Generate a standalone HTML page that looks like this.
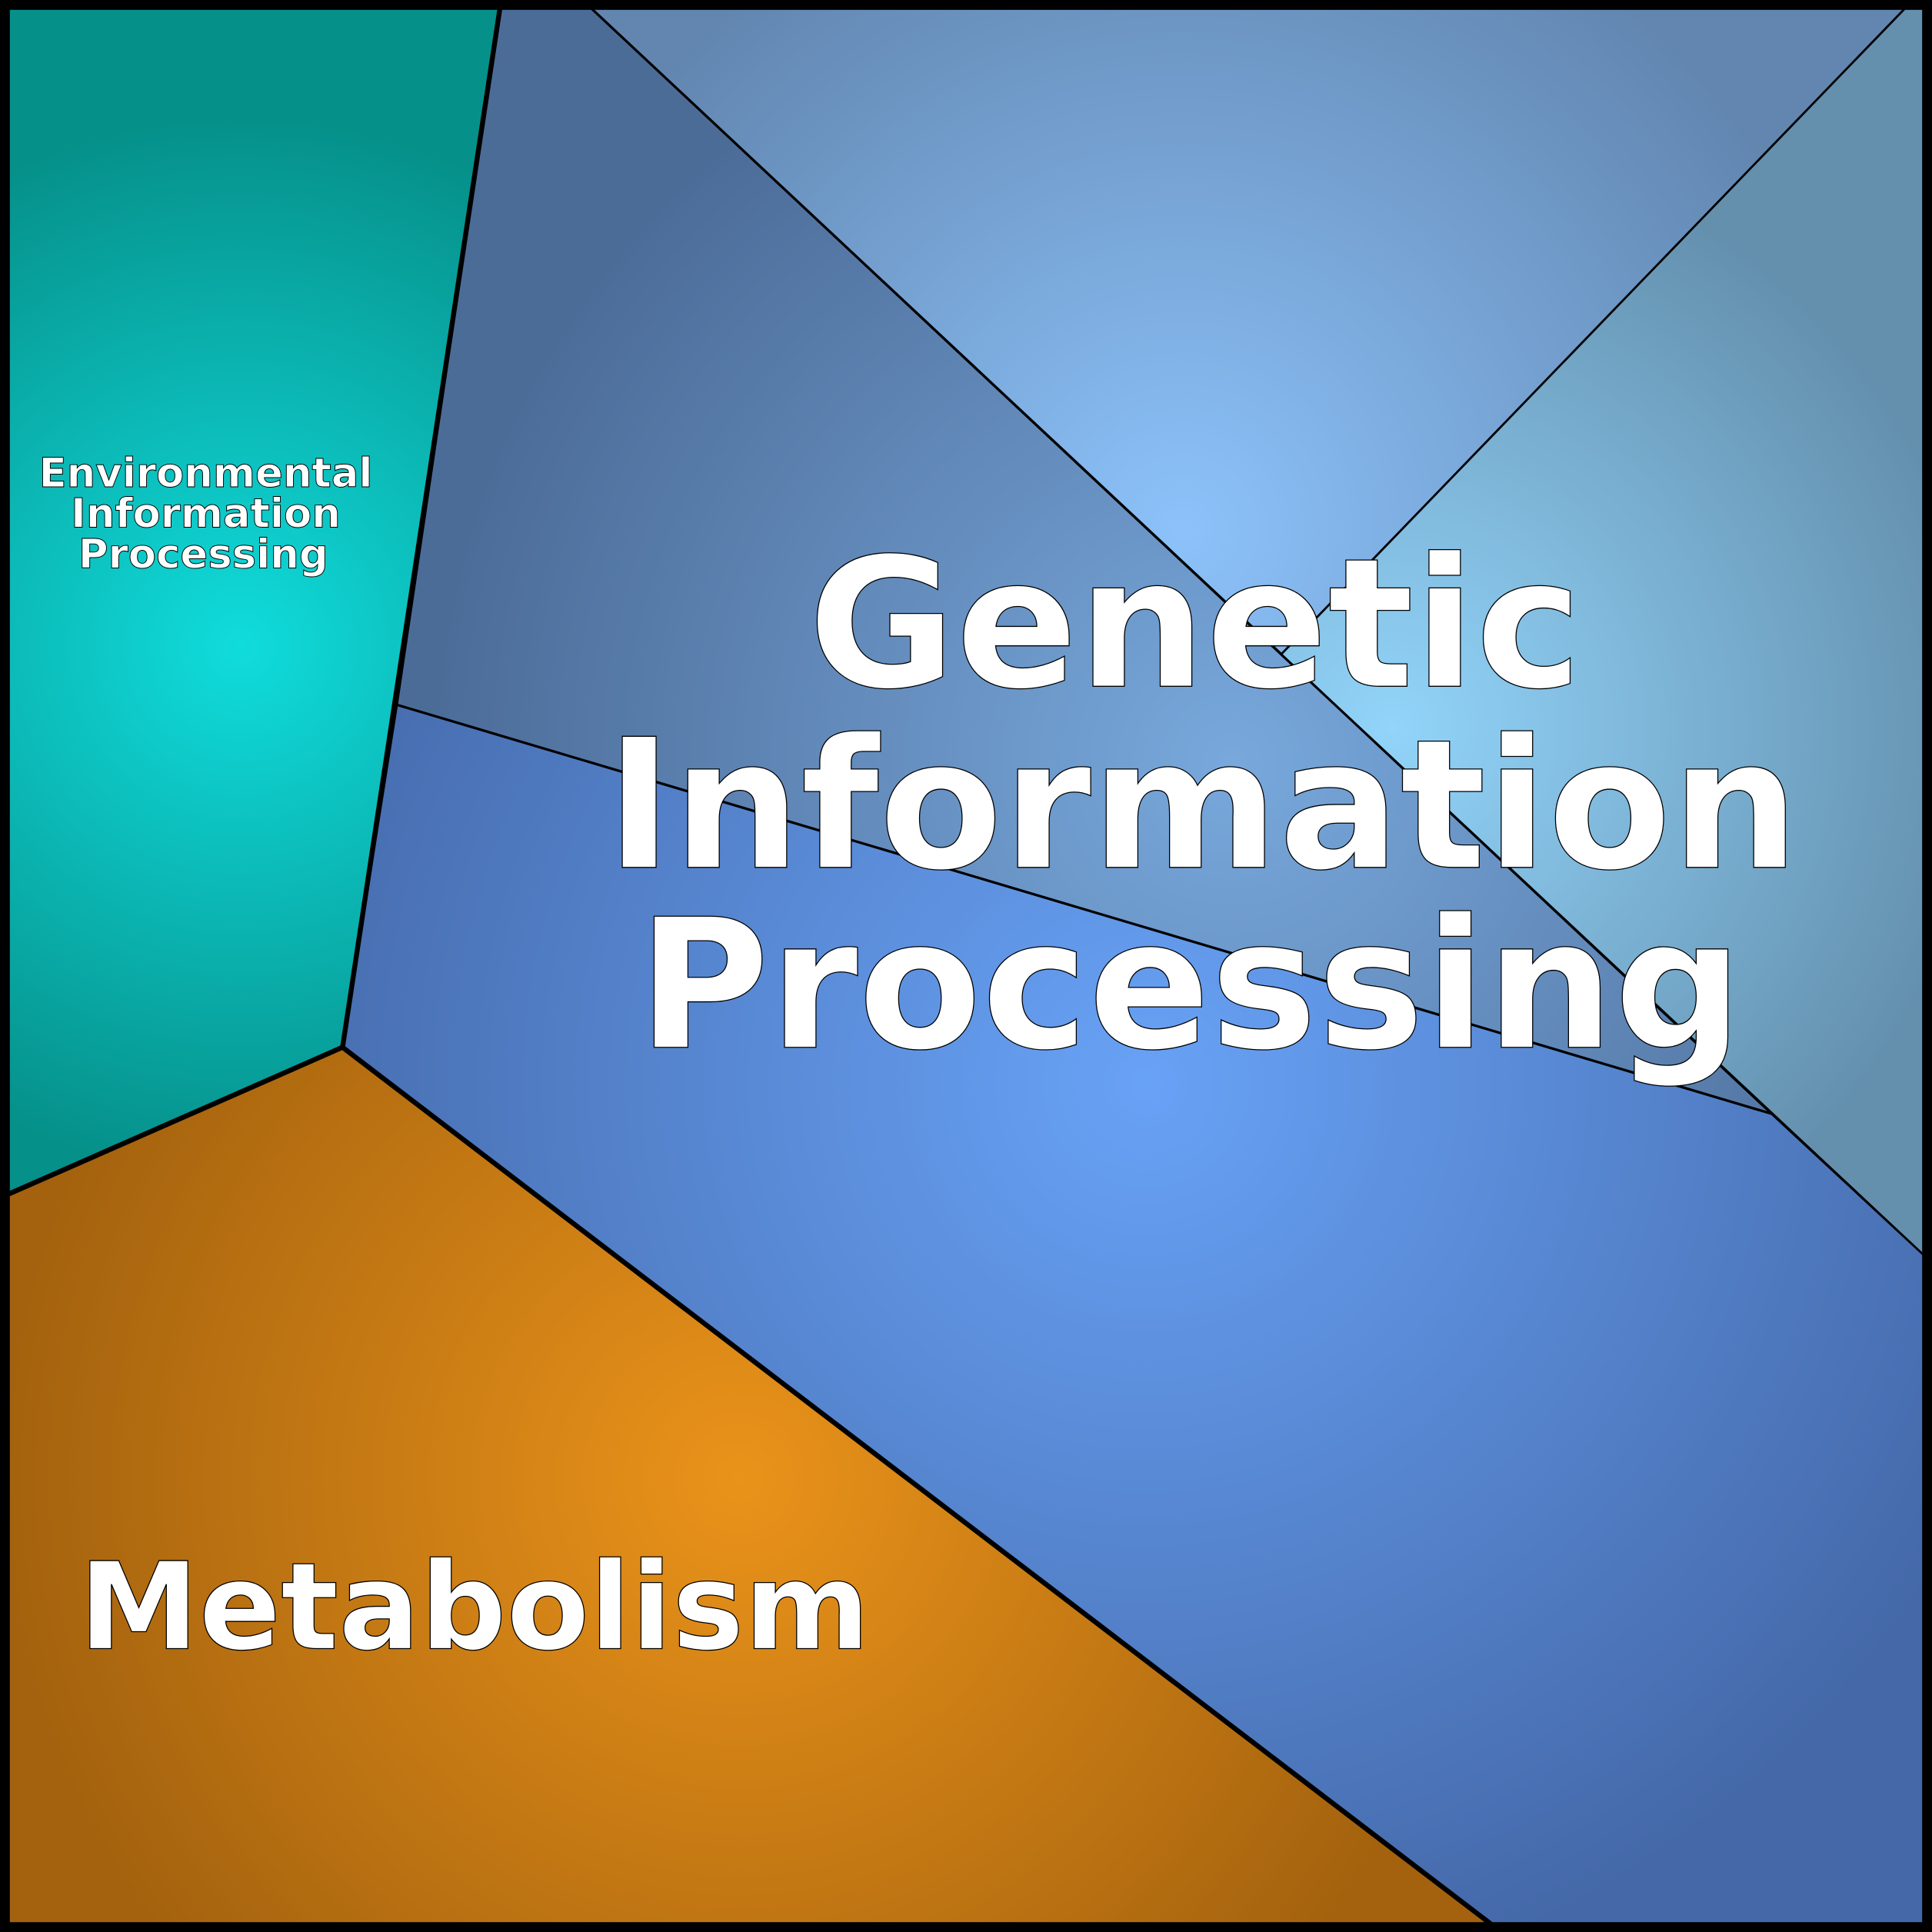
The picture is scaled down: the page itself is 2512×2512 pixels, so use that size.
<!DOCTYPE html>
<html><head><meta charset="utf-8"><style>
html,body{margin:0;padding:0;background:#fff}
svg{display:block}
text{font-family:"DejaVu Sans","Liberation Sans",sans-serif;font-weight:bold;fill:#fff;stroke:#000;text-anchor:middle}
</style></head><body>
<svg width="2512" height="2512" viewBox="0 0 1568 1568" xmlns="http://www.w3.org/2000/svg">
<defs>
<radialGradient id="gT" gradientUnits="userSpaceOnUse" cx="195" cy="525" r="430"><stop offset="0" stop-color="#10dcdc"/><stop offset="1" stop-color="#06908a"/></radialGradient>
<radialGradient id="gO" gradientUnits="userSpaceOnUse" cx="600" cy="1200" r="600"><stop offset="0" stop-color="#ea931a"/><stop offset="1" stop-color="#a4620e"/></radialGradient>
<radialGradient id="gB" gradientUnits="userSpaceOnUse" cx="930" cy="880" r="760"><stop offset="0" stop-color="#68a2f6"/><stop offset="1" stop-color="#4468a8"/></radialGradient>
<radialGradient id="gA" gradientUnits="userSpaceOnUse" cx="1000" cy="620" r="650"><stop offset="0" stop-color="#78a8dc"/><stop offset="1" stop-color="#4c6c98"/></radialGradient>
<radialGradient id="gU" gradientUnits="userSpaceOnUse" cx="960" cy="430" r="560"><stop offset="0" stop-color="#8cc2fa"/><stop offset="1" stop-color="#6286b0"/></radialGradient>
<radialGradient id="gR" gradientUnits="userSpaceOnUse" cx="1130" cy="590" r="480"><stop offset="0" stop-color="#92d4fa"/><stop offset="1" stop-color="#6490ae"/></radialGradient>
</defs>
<polygon points="406,5 478,5 1438,904 322,572" fill="url(#gA)" stroke="#000" stroke-width="2"/>
<polygon points="322,572 1438,904 1563,1020 1563,1563 1212,1563 278,850" fill="url(#gB)" stroke="#000" stroke-width="2"/>
<polygon points="478,5 1548,5 1040,531" fill="url(#gU)" stroke="#000" stroke-width="2"/>
<polygon points="1548,5 1563,5 1563,1020 1040,531" fill="url(#gR)" stroke="#000" stroke-width="1.5"/>
<polygon points="5,5 406,5 278,850 5,970" fill="url(#gT)" stroke="#000" stroke-width="4"/>
<polygon points="5,970 278,850 1212,1563 5,1563" fill="url(#gO)" stroke="#000" stroke-width="4"/>
<rect x="4" y="4" width="1560" height="1560" fill="none" stroke="#000" stroke-width="8"/>
<text x="167" y="395" font-size="33" stroke-width="0.6">Environmental</text>
<text x="167" y="428" font-size="33" stroke-width="0.6">Information</text>
<text x="165" y="461" font-size="33" stroke-width="0.6">Processing</text>
<text x="970" y="557" font-size="146" stroke-width="0.8">Genetic</text>
<text x="976" y="704" font-size="146" stroke-width="0.8">Information</text>
<text x="966" y="850" font-size="146" stroke-width="0.8">Processing</text>
<text x="385" y="1338" font-size="98" stroke-width="0.8">Metabolism</text>
</svg>
</body></html>
